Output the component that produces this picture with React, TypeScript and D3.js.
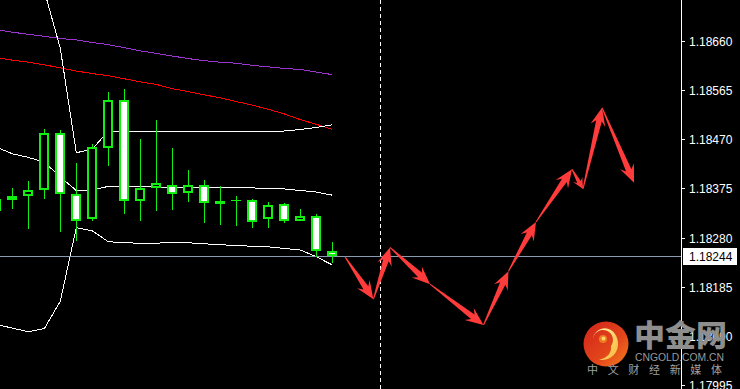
import React from 'react';
import * as d3 from 'd3';

const W = 740;
const H = 389;

// Candles (bar index 0..21)
const candleOpen = [1.18332, 1.18353, 1.18360, 1.18371, 1.18482, 1.18364, 1.18315, 1.18453, 1.18545, 1.18351, 1.18375, 1.18382, 1.18366, 1.18381, 1.18346, 1.18352, 1.18352, 1.18315, 1.18344, 1.18313, 1.18321, 1.18255];
const candleHigh = [1.18360, 1.18375, 1.18389, 1.18489, 1.18488, 1.18424, 1.18461, 1.18561, 1.18567, 1.18470, 1.18507, 1.18453, 1.18411, 1.18391, 1.18380, 1.18360, 1.18355, 1.18349, 1.18347, 1.18335, 1.18326, 1.18271];
const candleLow = [1.18328, 1.18335, 1.18297, 1.18354, 1.18291, 1.18274, 1.18313, 1.18419, 1.18326, 1.18313, 1.18332, 1.18334, 1.18349, 1.18309, 1.18305, 1.18303, 1.18299, 1.18299, 1.18308, 1.18313, 1.18242, 1.18231];
const candleClose = [1.18354, 1.18360, 1.18371, 1.18482, 1.18364, 1.18313, 1.18455, 1.18545, 1.18351, 1.18375, 1.18385, 1.18364, 1.18381, 1.18347, 1.18350, 1.18352, 1.18311, 1.18342, 1.18313, 1.18321, 1.18255, 1.18244];

// Indicator lines, one value per bar
const maPurple = [1.18682, 1.18677, 1.18673, 1.18669, 1.18665, 1.18662, 1.18657, 1.18653, 1.18647, 1.18641, 1.18636, 1.18631, 1.18626, 1.18622, 1.18619, 1.18617, 1.18613, 1.18610, 1.18607, 1.18605, 1.18600, 1.18595];
const maRed = [1.18628, 1.18623, 1.18619, 1.18614, 1.18608, 1.18602, 1.18597, 1.18593, 1.18587, 1.18581, 1.18576, 1.18568, 1.18562, 1.18556, 1.18550, 1.18543, 1.18536, 1.18528, 1.18519, 1.18508, 1.18499, 1.18489];
const bbUpper = [1.18798, 1.18779, 1.18772, 1.18757, 1.18646, 1.18444, 1.18451, 1.18486, 1.18486, 1.18486, 1.18486, 1.18486, 1.18486, 1.18486, 1.18486, 1.18486, 1.18486, 1.18486, 1.18486, 1.18489, 1.18493, 1.18498];
const bbMiddle = [1.18455, 1.18442, 1.18435, 1.18426, 1.18397, 1.18371, 1.18372, 1.18379, 1.18378, 1.18378, 1.18378, 1.18377, 1.18377, 1.18377, 1.18377, 1.18376, 1.18376, 1.18375, 1.18374, 1.18371, 1.18368, 1.18362];
const bbLower = [1.18112, 1.18105, 1.18098, 1.18104, 1.18157, 1.18299, 1.18293, 1.18272, 1.18270, 1.18269, 1.18269, 1.18271, 1.18270, 1.18268, 1.18266, 1.18265, 1.18263, 1.18262, 1.18259, 1.18256, 1.18243, 1.18227];

// Forecast arrow path (bar index, price)
const arrowIndex = [21.79, 23.57, 24.61, 27.11, 30.45, 32.01, 33.73, 35.98, 36.67, 37.86, 39.86];
const arrowPrice = [1.18243, 1.18161, 1.18261, 1.18190, 1.18111, 1.18215, 1.18310, 1.18412, 1.18374, 1.18531, 1.18386];

const priceTicks = [1.18660, 1.18565, 1.18470, 1.18375, 1.18280, 1.18185, 1.18090, 1.17995];
const lastPrice = 1.18244;
const separatorIndex = 24;

const GREEN = '#12f012';

function arrowPolygon(x0: number, y0: number, x1: number, y1: number): string {
  const dx = x1 - x0, dy = y1 - y0;
  const L = Math.hypot(dx, dy);
  const ux = dx / L, uy = dy / L;
  const nx = -uy, ny = ux;
  const k = Math.min(1, L / 45);
  const hl = 18 * Math.max(k, 0.6);
  const hh = 7.5 * Math.max(k, 0.7);
  const sh = 2.9 * Math.max(k, 0.7);
  const notch = 4.5 * Math.max(k, 0.6);
  const P = (a: number, b: number) => [x0 + ux * a + nx * b, y0 + uy * a + ny * b];
  const pts = [
    P(0, 0.5),
    P(L - hl + notch, sh),
    P(L - hl, hh),
    P(L, 0),
    P(L - hl, -hh),
    P(L - hl + notch, -sh),
    P(0, -0.5),
  ];
  return pts.map((p) => p[0].toFixed(2) + ',' + p[1].toFixed(2)).join(' ');
}

export default function App() {
  const x = d3.scaleLinear().domain([0, 21]).range([-3.7, 332.3]);
  const y = d3.scaleLinear().domain([1.17995, 1.18660]).range([385, 41]);
  const axisX = 681;

  const line = d3
    .line<number>()
    .x((_d, i) => x(i))
    .y((d) => y(d));

  const sepX = Math.floor(x(separatorIndex)) + 0.5;
  const lastY = Math.round(y(lastPrice)) + 0.5;

  return (
    <svg
      width={W}
      height={H}
      style={{ position: 'absolute', left: 0, top: 0, display: 'block' }}
      fontFamily="'Liberation Sans', Arial, sans-serif"
    >
      <defs>
        <linearGradient id="logoRed" x1="0" y1="0" x2="1" y2="1">
          <stop offset="0%" stopColor="#d2231a" />
          <stop offset="60%" stopColor="#e2461b" />
          <stop offset="100%" stopColor="#f4801f" />
        </linearGradient>
        <linearGradient id="logoYellow" x1="0" y1="0" x2="1" y2="1">
          <stop offset="0%" stopColor="#fff6b0" />
          <stop offset="100%" stopColor="#f7b733" />
        </linearGradient>
        <clipPath id="plotClip">
          <rect x={0} y={0} width={axisX} height={H} />
        </clipPath>
      </defs>
      <rect x={0} y={0} width={W} height={H} fill="#000" />

      <g clipPath="url(#plotClip)">
        {/* indicator lines */}
        <g shapeRendering="crispEdges" fill="none" strokeWidth={1}>
          <path d={line(maPurple) || ''} stroke="#9b34d0" />
          <path d={line(maRed) || ''} stroke="#ff0000" />
          <path d={line(bbUpper) || ''} stroke="#ffffff" />
          <path d={line(bbMiddle) || ''} stroke="#ffffff" />
          <path d={line(bbLower) || ''} stroke="#ffffff" />
        </g>

        {/* last price line */}
        <line x1={0} x2={axisX} y1={lastY} y2={lastY} stroke="#8a9ab0" strokeWidth={1} />

        {/* candles */}
        {candleOpen.map((o, i) => {
          const c = candleClose[i];
          const cx = Math.floor(x(i));
          const top = Math.round(y(Math.max(o, c)));
          const bot = Math.round(y(Math.min(o, c)));
          const bull = c > o;
          const doji = o === c;
          return (
            <g key={i} shapeRendering="crispEdges">
              <line
                x1={cx + 0.5}
                x2={cx + 0.5}
                y1={Math.round(y(candleHigh[i]))}
                y2={Math.round(y(candleLow[i]))}
                stroke={GREEN}
                strokeWidth={1}
              />
              {doji ? (
                <line x1={cx - 5} x2={cx + 5} y1={top + 0.5} y2={top + 0.5} stroke={GREEN} strokeWidth={1} />
              ) : (
                <rect
                  x={cx - 4}
                  y={top + 1}
                  width={8}
                  height={Math.max(bot - top - 2, 0.5)}
                  fill={bull ? '#000' : '#fff'}
                  stroke={GREEN}
                  strokeWidth={2}
                />
              )}
            </g>
          );
        })}
      </g>

      {/* period separator */}
      <line x1={sepX} x2={sepX} y1={0} y2={H} stroke="#fff" strokeWidth={1} strokeDasharray="4,3" />

      {/* forecast arrows */}
      {arrowIndex.slice(1).map((xi, k) => (
        <polygon
          key={k}
          points={arrowPolygon(x(arrowIndex[k]), y(arrowPrice[k]), x(xi), y(arrowPrice[k + 1]))}
          fill="#ff3b3b"
        />
      ))}

      {/* price axis */}
      <line x1={axisX + 0.5} x2={axisX + 0.5} y1={0} y2={H} stroke="#fff" strokeWidth={1} />
      {priceTicks.map((p) => {
        const ty = Math.round(y(p)) + 0.5;
        return (
          <g key={p}>
            <line x1={axisX} x2={axisX + 4} y1={ty} y2={ty} stroke="#fff" strokeWidth={1} />
            <text x={689} y={ty + 4} fill="#fff" fontSize={12}>
              {p.toFixed(5)}
            </text>
          </g>
        );
      })}
      <rect x={axisX + 2} y={lastY - 8.5} width={54} height={17} fill="#fff" />
      <text x={689} y={lastY + 4} fill="#000" fontSize={12}>
        {lastPrice.toFixed(5)}
      </text>

      {/* watermark logo */}
      <g>
        <circle cx={606} cy={344} r={22.5} fill="url(#logoRed)" />
        <g transform="translate(606,344)">
          <path
            d="M -13,-4 A 10 10 0 1 1 5,2 C 6,9 1,14 -7,16 C 4,17 12,10 12,0 C 12,-4 11,-7 9,-10 C 6,-15 0,-17 -5,-15 C -10,-13 -13,-9 -13,-4 Z"
            fill="url(#logoYellow)"
          />
          <circle cx={-3} cy={-5} r={4} fill="#ee7d22" />
          <circle cx={-2.5} cy={-5.5} r={2} fill="#fbd46a" />
        </g>
        <text x={634} y={346} fill="#8e8e8e" fontSize={30} fontWeight={900} fontFamily="'Noto Sans CJK SC', sans-serif" textLength={93} lengthAdjust="spacingAndGlyphs">
          中金网
        </text>
        <text x={635} y={361} fill="#9a9a9a" fontSize={10.5} fontFamily="'Liberation Sans', Arial, sans-serif" textLength={89} lengthAdjust="spacingAndGlyphs">
          CNGOLD.COM.CN
        </text>
        <text x={587} y={374} fill="#a0a0a0" fontSize={11} fontFamily="'Noto Sans CJK SC', sans-serif" textLength={135} lengthAdjust="spacing">
          中文财经新媒体
        </text>
      </g>
    </svg>
  );
}
